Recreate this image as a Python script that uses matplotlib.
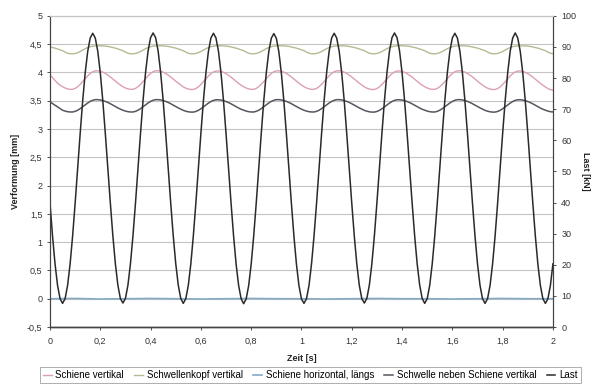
import numpy as np
import matplotlib
matplotlib.use("Agg")
import matplotlib.pyplot as plt

plt.rcParams['font.family'] = ['Liberation Sans', 'DejaVu Sans']

# Messwerte, Abtastung alle 10 ms von 0 bis 2 s
zeit = np.arange(201) * 0.01

# Last [kN]
last = [
    39.8, 29.3, 20.3, 13.4, 9.1,
    7.6, 9.1, 13.4, 20.3, 29.3, 39.8, 51.0, 62.2, 72.7, 81.7, 88.6, 92.9, 94.4, 92.9, 88.6, 81.7, 72.7, 62.2, 51.0, 39.8, 29.3, 20.3, 13.4, 9.1,
    7.7, 9.2, 13.5, 20.4, 29.4, 39.9, 51.1, 62.3, 72.8, 81.8, 88.7, 93.0, 94.5, 93.0, 88.7, 81.8, 72.8, 62.3, 51.1, 39.9, 29.4, 20.4, 13.5, 9.2,
    7.6, 9.1, 13.4, 20.3, 29.3, 39.8, 51.0, 62.2, 72.7, 81.7, 88.6, 92.9, 94.4, 92.9, 88.6, 81.7, 72.7, 62.2, 51.0, 39.8, 29.3, 20.3, 13.4, 9.1,
    7.5, 9.0, 13.3, 20.2, 29.2, 39.7, 50.9, 62.1, 72.6, 81.6, 88.5, 92.8, 94.3, 92.8, 88.5, 81.6, 72.6, 62.1, 50.9, 39.7, 29.2, 20.2, 13.3, 9.0,
    7.6, 9.1, 13.4, 20.3, 29.3, 39.8, 51.0, 62.2, 72.7, 81.7, 88.6, 92.9, 94.4, 92.9, 88.6, 81.7, 72.7, 62.2, 51.0, 39.8, 29.3, 20.3, 13.4, 9.1,
    7.7, 9.2, 13.5, 20.4, 29.4, 39.9, 51.1, 62.3, 72.8, 81.8, 88.7, 93.0, 94.5, 93.0, 88.7, 81.8, 72.8, 62.3, 51.1, 39.9, 29.4, 20.4, 13.5, 9.2,
    7.6, 9.1, 13.4, 20.3, 29.3, 39.8, 51.0, 62.2, 72.7, 81.7, 88.6, 92.9, 94.4, 92.9, 88.6, 81.7, 72.7, 62.2, 51.0, 39.8, 29.3, 20.3, 13.4, 9.1,
    7.6, 9.1, 13.4, 20.3, 29.3, 39.8, 51.0, 62.2, 72.7, 81.7, 88.6, 92.9, 94.5, 92.9, 88.6, 81.7, 72.7, 62.2, 51.0, 39.8, 29.3, 20.3, 13.4, 9.1,
    7.6, 9.1, 13.4, 20.3,
]

# Schiene vertikal [mm]
schiene_vert = [
    3.95, 3.91, 3.86, 3.81, 3.775,
    3.748, 3.725, 3.709, 3.701, 3.702, 3.718, 3.748, 3.790, 3.839, 3.891, 3.940, 3.982, 4.012, 4.028, 4.029, 4.021, 4.005, 3.982, 3.953, 3.920, 3.883, 3.847, 3.810, 3.777,
    3.748, 3.725, 3.709, 3.701, 3.702, 3.718, 3.748, 3.790, 3.839, 3.891, 3.940, 3.982, 4.012, 4.028, 4.029, 4.021, 4.005, 3.982, 3.953, 3.920, 3.883, 3.847, 3.810, 3.777,
    3.745, 3.722, 3.706, 3.698, 3.699, 3.715, 3.745, 3.787, 3.836, 3.888, 3.937, 3.979, 4.009, 4.025, 4.026, 4.018, 4.002, 3.979, 3.950, 3.917, 3.880, 3.844, 3.807, 3.774,
    3.748, 3.725, 3.709, 3.701, 3.702, 3.718, 3.748, 3.790, 3.839, 3.891, 3.940, 3.982, 4.012, 4.028, 4.029, 4.021, 4.005, 3.982, 3.953, 3.920, 3.883, 3.847, 3.810, 3.777,
    3.748, 3.725, 3.709, 3.701, 3.702, 3.718, 3.748, 3.790, 3.839, 3.891, 3.940, 3.982, 4.012, 4.028, 4.029, 4.021, 4.005, 3.982, 3.953, 3.920, 3.883, 3.847, 3.810, 3.777,
    3.745, 3.722, 3.706, 3.698, 3.699, 3.715, 3.745, 3.787, 3.836, 3.888, 3.937, 3.979, 4.009, 4.025, 4.026, 4.018, 4.002, 3.979, 3.950, 3.917, 3.880, 3.844, 3.807, 3.774,
    3.748, 3.725, 3.709, 3.701, 3.702, 3.718, 3.748, 3.790, 3.839, 3.891, 3.940, 3.982, 4.012, 4.028, 4.029, 4.021, 4.005, 3.982, 3.953, 3.920, 3.883, 3.847, 3.810, 3.777,
    3.745, 3.722, 3.706, 3.698, 3.699, 3.715, 3.745, 3.787, 3.836, 3.888, 3.937, 3.979, 4.009, 4.025, 4.026, 4.018, 4.002, 3.979, 3.950, 3.917, 3.880, 3.844, 3.807, 3.774,
    3.742, 3.715, 3.695, 3.685,
]

# Schwellenkopf vertikal [mm]
schwellenkopf_vert = [
    4.45, 4.44, 4.43, 4.415, 4.40,
    4.385, 4.36, 4.34, 4.33, 4.33, 4.335, 4.35, 4.37, 4.395, 4.42, 4.44, 4.455, 4.465, 4.47, 4.47, 4.47, 4.47, 4.465, 4.46, 4.45, 4.44, 4.43, 4.415, 4.40,
    4.385, 4.36, 4.34, 4.33, 4.33, 4.335, 4.35, 4.37, 4.395, 4.42, 4.44, 4.455, 4.465, 4.47, 4.47, 4.47, 4.47, 4.465, 4.46, 4.45, 4.44, 4.43, 4.415, 4.40,
    4.385, 4.36, 4.34, 4.33, 4.33, 4.335, 4.35, 4.37, 4.395, 4.42, 4.44, 4.455, 4.465, 4.47, 4.475, 4.47, 4.47, 4.465, 4.46, 4.45, 4.44, 4.43, 4.415, 4.40,
    4.385, 4.36, 4.34, 4.33, 4.33, 4.335, 4.35, 4.37, 4.395, 4.42, 4.44, 4.455, 4.465, 4.47, 4.47, 4.47, 4.47, 4.465, 4.46, 4.45, 4.44, 4.43, 4.415, 4.40,
    4.385, 4.36, 4.34, 4.33, 4.33, 4.335, 4.35, 4.37, 4.395, 4.42, 4.44, 4.455, 4.465, 4.47, 4.47, 4.47, 4.47, 4.465, 4.46, 4.45, 4.44, 4.43, 4.415, 4.40,
    4.385, 4.36, 4.34, 4.33, 4.33, 4.335, 4.35, 4.37, 4.395, 4.42, 4.44, 4.455, 4.465, 4.47, 4.475, 4.47, 4.47, 4.465, 4.46, 4.45, 4.44, 4.43, 4.415, 4.40,
    4.385, 4.36, 4.34, 4.33, 4.33, 4.335, 4.35, 4.37, 4.395, 4.42, 4.44, 4.455, 4.465, 4.47, 4.47, 4.47, 4.47, 4.465, 4.46, 4.45, 4.44, 4.43, 4.415, 4.40,
    4.385, 4.36, 4.34, 4.33, 4.33, 4.335, 4.35, 4.37, 4.395, 4.42, 4.44, 4.455, 4.465, 4.47, 4.47, 4.47, 4.47, 4.465, 4.46, 4.45, 4.44, 4.43, 4.415, 4.40,
    4.385, 4.36, 4.34, 4.33,
]

# Schwelle neben Schiene vertikal [mm]
schwelle_neben_vert = [
    3.48, 3.45, 3.42, 3.39, 3.36,
    3.332, 3.317, 3.306, 3.301, 3.301, 3.312, 3.332, 3.360, 3.393, 3.427, 3.460, 3.488, 3.508, 3.519, 3.519, 3.514, 3.503, 3.488, 3.469, 3.447, 3.422, 3.398, 3.373, 3.351,
    3.332, 3.317, 3.306, 3.301, 3.301, 3.312, 3.332, 3.360, 3.393, 3.427, 3.460, 3.488, 3.508, 3.519, 3.519, 3.514, 3.503, 3.488, 3.469, 3.447, 3.422, 3.398, 3.373, 3.351,
    3.330, 3.315, 3.304, 3.299, 3.299, 3.310, 3.330, 3.358, 3.391, 3.425, 3.458, 3.486, 3.506, 3.517, 3.517, 3.512, 3.501, 3.486, 3.467, 3.445, 3.420, 3.396, 3.371, 3.349,
    3.332, 3.317, 3.306, 3.301, 3.301, 3.312, 3.332, 3.360, 3.393, 3.427, 3.460, 3.488, 3.508, 3.519, 3.519, 3.514, 3.503, 3.488, 3.469, 3.447, 3.422, 3.398, 3.373, 3.351,
    3.332, 3.317, 3.306, 3.301, 3.301, 3.312, 3.332, 3.360, 3.393, 3.427, 3.460, 3.488, 3.508, 3.519, 3.519, 3.514, 3.503, 3.488, 3.469, 3.447, 3.422, 3.398, 3.373, 3.351,
    3.330, 3.315, 3.304, 3.299, 3.299, 3.310, 3.330, 3.358, 3.391, 3.425, 3.458, 3.486, 3.506, 3.517, 3.517, 3.512, 3.501, 3.486, 3.467, 3.445, 3.420, 3.396, 3.371, 3.349,
    3.332, 3.317, 3.306, 3.301, 3.301, 3.312, 3.332, 3.360, 3.393, 3.427, 3.460, 3.488, 3.508, 3.519, 3.519, 3.514, 3.503, 3.488, 3.469, 3.447, 3.422, 3.398, 3.373, 3.351,
    3.330, 3.315, 3.304, 3.299, 3.299, 3.310, 3.330, 3.358, 3.391, 3.425, 3.458, 3.486, 3.506, 3.517, 3.517, 3.512, 3.501, 3.486, 3.467, 3.445, 3.420, 3.396, 3.371, 3.349,
    3.332, 3.317, 3.306, 3.301,
]

zeit_grob = np.arange(21) * 0.1
schiene_horiz = [0.0, 0.005, -0.005, 0.0, 0.005, 0.0, -0.005, 0.0, 0.005, 0.0, 0.0,
                 -0.005, 0.0, 0.005, 0.0, 0.0, -0.005, 0.0, 0.005, 0.0, 0.0]

x_ticks = [0, 0.2, 0.4, 0.6, 0.8, 1.0, 1.2, 1.4, 1.6, 1.8, 2.0]
x_labels = ["0", "0,2", "0,4", "0,6", "0,8", "1", "1,2", "1,4", "1,6", "1,8", "2"]
y_ticks = [-0.5, 0, 0.5, 1, 1.5, 2, 2.5, 3, 3.5, 4, 4.5, 5]
y_labels = ["-0,5", "0", "0,5", "1", "1,5", "2", "2,5", "3", "3,5", "4", "4,5", "5"]
y2_ticks = [0, 10, 20, 30, 40, 50, 60, 70, 80, 90, 100]

fig = plt.figure(figsize=(5.91, 3.87), dpi=100)
ax1 = fig.add_axes([0.0846, 0.155, 0.851, 0.804])
ax2 = ax1.twinx()

ax1.set_axisbelow(True)
ax1.yaxis.grid(True, color="#c4c4c4", linewidth=0.8)

l1, = ax1.plot(zeit, schiene_vert, color="#dc9fb6", linewidth=1.0, label="Schiene vertikal")
l2, = ax1.plot(zeit, schwellenkopf_vert, color="#b6ba92", linewidth=1.0, label="Schwellenkopf vertikal")
l3, = ax1.plot(zeit_grob, schiene_horiz, color="#86aac4", linewidth=1.2, label="Schiene horizontal, längs")
l4, = ax1.plot(zeit, schwelle_neben_vert, color="#55565e", linewidth=1.1, label="Schwelle neben Schiene vertikal")
l5, = ax2.plot(zeit, last, color="#2a2a2a", linewidth=1.1, label="Last")

ax1.set_xlim(0, 2)
ax1.set_ylim(-0.5, 5)
ax2.set_ylim(0, 100)

ax1.set_xticks(x_ticks)
ax1.set_xticklabels(x_labels)
ax1.set_yticks(y_ticks)
ax1.set_yticklabels(y_labels)
ax2.set_yticks(y2_ticks)

ax1.tick_params(axis="both", labelsize=6.5, colors="#333333", length=2, width=0.6)
ax1.tick_params(axis="x", pad=5)
ax2.tick_params(axis="y", labelsize=6.5, colors="#333333", length=2.5, width=0.6)

for ax in (ax1, ax2):
    ax.spines["top"].set_color("#c4c4c4")
    ax.spines["left"].set_color("#444444")
    ax.spines["right"].set_color("#444444")
    ax.spines["bottom"].set_color("#444444")
    ax.spines["top"].set_linewidth(0.8)
    ax.spines["left"].set_linewidth(0.8)
    ax.spines["right"].set_linewidth(0.8)
    ax.spines["bottom"].set_linewidth(1.0)

ax1.set_xlabel("Zeit [s]", fontsize=6.5, fontweight="bold", color="#222222", labelpad=6)
ax1.set_ylabel("Verformung [mm]", fontsize=6.5, fontweight="bold", color="#222222", labelpad=5)
ax2.set_ylabel("Last [kN]", fontsize=6.5, fontweight="bold", color="#222222", rotation=270, labelpad=10)

leg = fig.legend(handles=[l1, l2, l3, l4, l5], loc="center", bbox_to_anchor=(0.525, 0.03),
                 ncol=5, fontsize=7, frameon=True, fancybox=False, handlelength=0.9,
                 handletextpad=0.4, columnspacing=1.05, borderpad=0.3)
leg.get_frame().set_edgecolor("#999999")
leg.get_frame().set_linewidth(0.7)

fig.savefig("out.png", dpi=100)
